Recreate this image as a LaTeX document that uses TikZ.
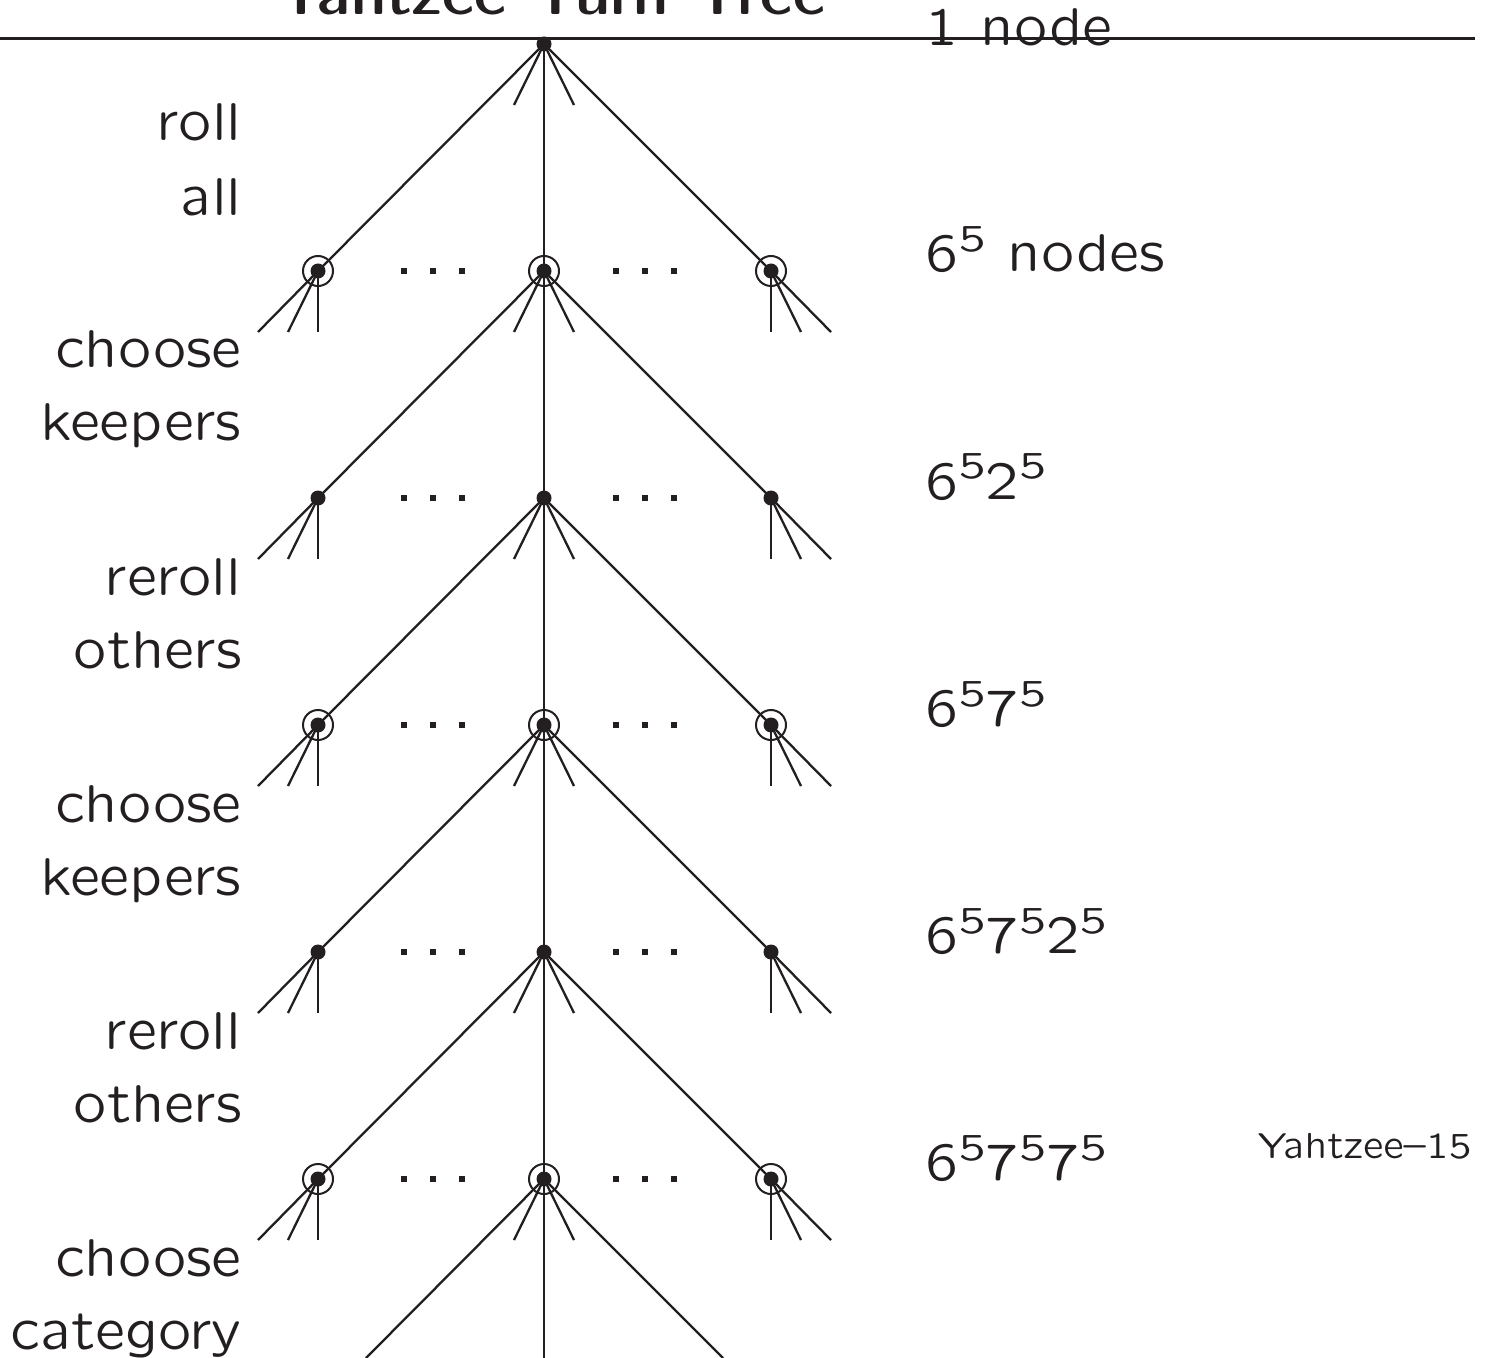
\documentclass[tikz,border=0pt]{standalone}
\usepackage{tikz}

\definecolor{ink}{HTML}{231F20}

% SliTeX sans serif, loaded at exact sizes
\font\labf=lcmss8 at 26.6pt
\font\titf=lcmssb8 at 25.8pt
\font\supf=lcmss8 at 18.9pt
\font\footf=lcmss8 at 18.15pt
\newcommand\pw[1]{\raisebox{10pt}{\scalebox{1.15}[1]{\supf #1}}}

\tikzset{
  dot/.style={circle, fill=ink, draw=none, inner sep=0pt, minimum size=7.5pt},
  ring/.style={draw=ink, line width=1pt},
  edge/.style={draw=ink, line width=1.15pt},
  lab/.style={inner sep=0pt, text=ink, font=\labf},
  ell/.style={fill=ink},
}

\begin{document}
\begin{tikzpicture}[x=0.5pt,y=-0.5pt]
  \useasboundingbox (0,0) rectangle (1488,1358);

  % heading and rule
  \node[inner sep=0pt, text=ink, anchor=base, font=\titf] (title) at (552,15)
    {Yahtzee Turn Tree};
  \draw[ink, line width=1.5pt] (0,39) -- (1475,39);

  % decision and chance nodes
  \node[dot] (c0) at (544,44) {};
  \foreach \i/\y in {1/271,2/498,3/725,4/952,5/1179} {
    \node[dot] (l\i) at (318,\y) {};
    \node[dot] (c\i) at (544,\y) {};
    \node[dot] (r\i) at (771,\y) {};
  }
  % rings mark the nodes reached by rolling
  \foreach \i in {1,3,5} {
    \foreach \n in {l,c,r} {
      \draw[ring] (\n\i.center) circle[radius=7.5pt];
    }
  }

  % branches between levels
  \foreach \i/\j in {0/1,1/2,2/3,3/4,4/5} {
    \draw[edge] (c\i.center) -- (l\j.center);
    \draw[edge] (c\i.center) -- (c\j.center);
    \draw[edge] (c\i.center) -- (r\j.center);
  }
  % short stubs for the omitted branches
  \foreach \i in {0,...,5} {
    \draw[edge] (c\i.center) -- ++(-30,61);
    \draw[edge] (c\i.center) -- ++(30,61);
  }
  \foreach \i in {1,...,5} {
    \draw[edge] (l\i.center) -- ++(-60,61);
    \draw[edge] (l\i.center) -- ++(-30,61);
    \draw[edge] (l\i.center) -- ++(0,61);
    \draw[edge] (r\i.center) -- ++(60,61);
    \draw[edge] (r\i.center) -- ++(30,61);
    \draw[edge] (r\i.center) -- ++(0,61);
  }
  % last branches run off the bottom
  \coordinate (bl) at (366,1358);
  \coordinate (bc) at (544,1358);
  \coordinate (br) at (723,1358);
  \draw[edge] (c5.center) -- (bl);
  \draw[edge] (c5.center) -- (bc);
  \draw[edge] (c5.center) -- (br);

  % ellipses between nodes of a level
  \foreach \y in {271,498,725,952,1179} {
    \foreach \x in {404,433,462,616,645,674} {
      \fill[ell] (\x-2.75,\y-2.75) rectangle ++(5.5,5.5);
    }
  }

  % stage labels
  \node[lab, anchor=base east] (s1a) at (242,141) {roll};
  \node[lab, anchor=base east] (s1b) at (242,216) {all};
  \node[lab, anchor=base east] (s2a) at (242,368) {choose};
  \node[lab, anchor=base east] (s2b) at (242,441) {keepers};
  \node[lab, anchor=base east] (s3a) at (242,595) {reroll};
  \node[lab, anchor=base east] (s3b) at (242,668) {others};
  \node[lab, anchor=base east] (s4a) at (242,822) {choose};
  \node[lab, anchor=base east] (s4b) at (242,895) {keepers};
  \node[lab, anchor=base east] (s5a) at (242,1049) {reroll};
  \node[lab, anchor=base east] (s5b) at (242,1122) {others};
  \node[lab, anchor=base east] (s6a) at (242,1276) {choose};
  \node[lab, anchor=base east] (s6b) at (242,1349) {category};

  % node counts per level
  \node[lab, anchor=base west] (n0) at (925,46) {1 node};
  \node[lab, anchor=base west] (n1) at (925,272) {6\pw{5} nodes};
  \node[lab, anchor=base west] (n2) at (925,499) {6\pw{5}2\pw{5}};
  \node[lab, anchor=base west] (n3) at (925,726) {6\pw{5}7\pw{5}};
  \node[lab, anchor=base west] (n4) at (925,953) {6\pw{5}7\pw{5}2\pw{5}};
  \node[lab, anchor=base west] (n5) at (925,1180) {6\pw{5}7\pw{5}7\pw{5}};

  % slide number
  \node[inner sep=0pt, text=ink, anchor=base east, font=\footf] (pg) at (1472,1158)
    {Yahtzee--15};
\end{tikzpicture}
\end{document}
